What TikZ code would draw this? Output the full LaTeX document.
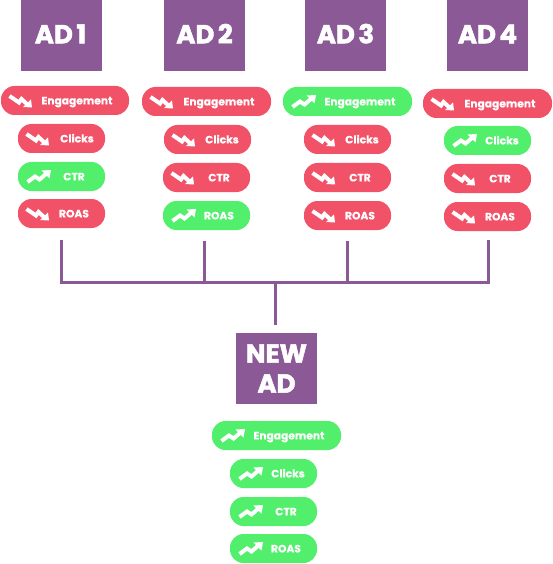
\documentclass[tikz,border=0pt]{standalone}
\usepackage{fontspec}
\setmainfont{Poppins}
\newfontfamily\heavyfont[FakeBold=2]{Poppins Bold}
\newfontfamily\pillfont[FakeBold=0.3]{Poppins Bold}
\usetikzlibrary{calc}
\definecolor{adpurple}{HTML}{8B5A96}
\definecolor{badred}{HTML}{F25268}
\definecolor{goodgreen}{HTML}{51EF6C}
\newcommand\AdSpace{\hspace{3.5pt}}
\tikzset{
  adbox/.style={fill=adpurple,draw=none,minimum width=81pt,minimum height=71pt,inner sep=0pt,align=center,text=white,font=\heavyfont\fontsize{26}{30}\selectfont},
  adone/.style={adbox,text height=15.6pt,text depth=0pt},
  pillbox/.style={rectangle,rounded corners=13.5pt,draw=none,minimum height=29pt,inner sep=0pt},
  pilltext/.style={text=white,inner sep=0pt,anchor=base,font=\pillfont\fontsize{10.7}{12}\selectfont},
  link/.style={draw=adpurple,line width=3pt},
  icon/.style={draw=white,line width=4pt,line join=miter},
  iconhead/.style={fill=white,draw=none}
}
% name, left, top, width, text, text offset from left
\newcommand\PillDown[6]{%
  \node[pillbox,fill=badred,minimum width=#4pt] (#1) at ({#2+#4/2},{#3+14.5}) {};
  \node[pilltext] (#1t) at ({#2+#6},{#3+18.4}) {#5};
  \begin{scope}[shift={(#2,{#3+14.5})}]
    \draw[icon] (8.5,-4.5) -- (18,2) -- (20.5,-1.5) -- (27,4.5);
    \fill[iconhead] (31,7) -- (22,6.5) -- (30,-1) -- cycle;
  \end{scope}}
\newcommand\PillUp[6]{%
  \node[pillbox,fill=goodgreen,minimum width=#4pt] (#1) at ({#2+#4/2},{#3+14.5}) {};
  \node[pilltext] (#1t) at ({#2+#6},{#3+18.4}) {#5};
  \begin{scope}[shift={(#2,{#3+14.5})}]
    \draw[icon] (9.5,5.5) -- (17,0) -- (21.5,3) -- (28.5,-3);
    \fill[iconhead] (33,-6.5) -- (31.5,2) -- (23.5,-6) -- cycle;
  \end{scope}}
\begin{document}
\begin{tikzpicture}[x=1pt,y=-1pt]
\useasboundingbox (0,0) rectangle (552,564);
\node[adone] (ad1) at (61.5,35.5) {AD\AdSpace 1\hspace{2pt}};
\node[adone] (ad2) at (204.5,35.5) {AD\AdSpace 2};
\node[adone] (ad3) at (345.5,35.5) {AD\AdSpace 3};
\node[adone] (ad4) at (487.5,35.5) {AD\AdSpace 4};
\node[adbox] (new) at (276.5,368.5) {NEW\\AD};
% column 1
\PillDown{e1}{1}{86}{128}{Engagement}{76}
\PillDown{c1}{18}{124}{87}{Clicks}{59}
\PillUp{t1}{18}{162}{87}{CTR}{56}
\PillDown{r1}{18}{199}{87}{ROAS}{56}
% column 2
\PillDown{e2}{142}{87}{129}{Engagement}{77}
\PillDown{c2}{164}{125}{87}{Clicks}{58}
\PillDown{t2}{163}{163}{87}{CTR}{56}
\PillUp{r2}{163}{201}{87}{ROAS}{56}
% column 3
\PillUp{e3}{283}{87}{129}{Engagement}{77}
\PillDown{c3}{304}{125}{87}{Clicks}{58}
\PillDown{t3}{304}{163}{87}{CTR}{56}
\PillDown{r3}{304}{201}{87}{ROAS}{56}
% column 4
\PillDown{e4}{423}{89}{129}{Engagement}{77}
\PillUp{c4}{444}{126}{87}{Clicks}{58}
\PillDown{t4}{444}{164}{87}{CTR}{56}
\PillDown{r4}{444}{202}{87}{ROAS}{56}
% new ad
\PillUp{en}{212}{421}{129}{Engagement}{77}
\PillUp{cn}{230}{459}{87}{Clicks}{58}
\PillUp{tn}{230}{497}{87}{CTR}{56}
\PillUp{rn}{230}{534}{87}{ROAS}{56}
% connectors
\coordinate (s1) at (61,241);
\coordinate (s2) at (204,241);
\coordinate (s3) at (347,241);
\coordinate (s4) at (488.5,241);
\coordinate (b1) at (61,282);
\coordinate (b2) at (204,282);
\coordinate (b3) at (347,282);
\coordinate (b4) at (488.5,282);
\coordinate (j) at (275,282);
\coordinate (n) at (275,325);
\draw[link,line cap=rect] (s1) -- (b1) -- (b4) -- (s4);
\draw[link] (s2) -- (b2);
\draw[link] (s3) -- (b3);
\draw[link] (j) -- (n);
\end{tikzpicture}
\end{document}
